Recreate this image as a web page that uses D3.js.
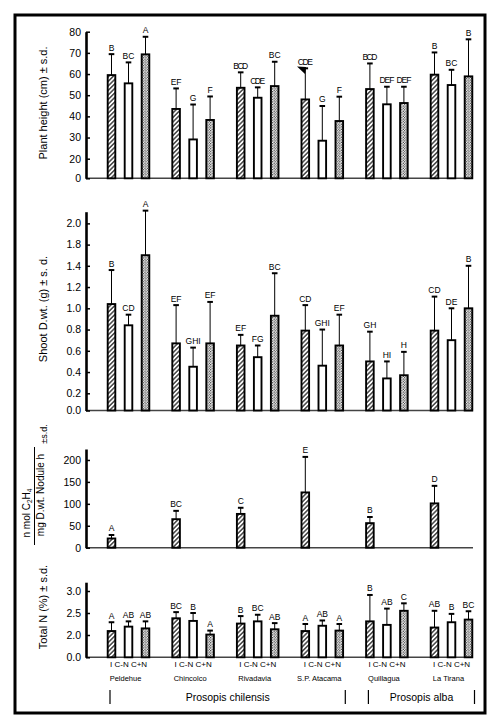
<!DOCTYPE html>
<html>
<head>
<meta charset="utf-8">
<script src="https://cdn.jsdelivr.net/npm/d3@7"></script>
<style>
  body { margin: 0; background: #fff; }
  svg { font-family: "Liberation Sans", Arial, sans-serif; }
  svg text { fill: #000; }
</style>
</head>
<body>
<div id="chart"></div>
<script>
// groups / treatments
const groups = ['Peldehue', 'Chincolco', 'Rivadavia', 'S.P. Atacama', 'Quillagua', 'La Tirana'];
const treatments = ['I', 'C-N', 'C+N'];
const treatLabel = 'I C-N C+N';

// plant height (cm), order: group by group, I / C-N / C+N
const heightMean = [59.5, 55.6, 69.3, 43.5, 29.1, 38.3, 53.5, 48.8, 54.3, 48.0, 28.5, 37.8, 52.9, 45.7, 46.3, 59.7, 54.8, 58.9];
const heightSd = [9.9, 9.9, 8.3, 9.7, 16.5, 11.1, 7.3, 4.9, 11.5, 14.7, 16.4, 11.5, 12.1, 8.3, 7.7, 10.5, 7.2, 17.5];
const heightLetters = ['B', 'BC', 'A', 'EF', 'G', 'F', 'BCD', 'CDE', 'BC', 'CDE', 'G', 'F', 'BCD', 'DEF', 'DEF', 'B', 'BC', 'B'];
const heightTicks = [0, 20, 30, 40, 50, 60, 70, 80];

// shoot dry weight (g)
const shootMean = [1.04, 0.84, 1.60, 0.67, 0.45, 0.67, 0.65, 0.54, 0.93, 0.79, 0.46, 0.65, 0.50, 0.34, 0.37, 0.79, 0.70, 1.00];
const shootSd = [0.32, 0.10, 0.52, 0.36, 0.18, 0.39, 0.10, 0.11, 0.40, 0.24, 0.34, 0.29, 0.28, 0.16, 0.22, 0.32, 0.30, 0.40];
const shootLetters = ['B', 'CD', 'A', 'EF', 'GHI', 'EF', 'EF', 'FG', 'BC', 'CD', 'GHI', 'EF', 'GH', 'HI', 'H', 'CD', 'DE', 'B'];
const shootTicks = [0, 0.2, 0.4, 0.6, 0.8, 1.0, 1.2, 1.4, 1.8, 2.0];

// nitrogenase activity (inoculated only)
const araMean = [21, 65, 77, 126, 56, 101];
const araSd = [8, 19, 14, 81, 14, 40];
const araLetters = ['A', 'BC', 'C', 'E', 'B', 'D'];
const araTicks = [0, 50, 100, 150, 200];

// total N (%)
const nMean = [2.09, 2.19, 2.15, 2.38, 2.32, 2.01, 2.26, 2.31, 2.13, 2.09, 2.21, 2.10, 2.31, 2.23, 2.55, 2.17, 2.29, 2.35];
const nSd = [0.20, 0.12, 0.16, 0.14, 0.18, 0.09, 0.17, 0.15, 0.14, 0.16, 0.12, 0.15, 0.60, 0.37, 0.17, 0.38, 0.19, 0.19];
const nLetters = ['A', 'AB', 'AB', 'BC', 'B', 'A', 'B', 'BC', 'AB', 'A', 'AB', 'A', 'B', 'AB', 'C', 'AB', 'B', 'BC'];
const nTicks = [0, 2.0, 2.5, 3.0];

const species = [
  { name: 'Prosopis chilensis', from: 'Peldehue', to: 'S.P. Atacama' },
  { name: 'Prosopis alba', from: 'Quillagua', to: 'La Tirana' }
];

document.addEventListener('DOMContentLoaded', () => {
  const width = 500;
  const height = 725;
  const axisX = 86;
  const axisEnd = 473;
  const barW = 7.6;

  const svg = d3.select('#chart')
    .append('svg')
    .attr('width', width)
    .attr('height', height);

  const defs = svg.append('defs');
  const hatch = defs.append('pattern')
    .attr('id', 'hatch')
    .attr('patternUnits', 'userSpaceOnUse')
    .attr('width', 3.2)
    .attr('height', 3.2)
    .attr('patternTransform', 'rotate(45)');
  hatch.append('rect').attr('width', 3.2).attr('height', 3.2).attr('fill', '#fff');
  hatch.append('line')
    .attr('x1', 0.8).attr('y1', 0).attr('x2', 0.8).attr('y2', 3.2)
    .attr('stroke', '#000').attr('stroke-width', 1.1);

  const dots = defs.append('pattern')
    .attr('id', 'dots')
    .attr('patternUnits', 'userSpaceOnUse')
    .attr('width', 2.6)
    .attr('height', 2.6);
  dots.append('rect').attr('width', 2.6).attr('height', 2.6).attr('fill', '#fff');
  dots.append('circle').attr('cx', 0.65).attr('cy', 0.65).attr('r', 0.6).attr('fill', '#000');
  dots.append('circle').attr('cx', 1.95).attr('cy', 1.95).attr('r', 0.6).attr('fill', '#000');

  const fills = { 'I': 'url(#hatch)', 'C-N': '#fff', 'C+N': 'url(#dots)' };

  // frame
  svg.append('rect')
    .attr('x', 15).attr('y', 15)
    .attr('width', 470).attr('height', 698)
    .attr('fill', 'none')
    .attr('stroke', '#000')
    .attr('stroke-width', 3);

  const xGroup = d3.scalePoint()
    .domain(groups)
    .range([128.5, 451.5]);

  const xTreat = d3.scalePoint()
    .domain(treatments)
    .range([-17, 17]);

  // y scales (the original axes skip the lowest step, so they are piecewise)
  const y1 = d3.scaleLinear().domain([0, 20, 80]).range([178.3, 158.7, 31.7]);
  const y2 = d3.scaleLinear().domain([0, 0.2, 1.4, 1.8, 2.11]).range([410.5, 393.3, 265.8, 244.6, 211.7]);
  const y3 = d3.scaleLinear().domain([0, 225]).range([547.7, 449]);
  const y4 = d3.scaleLinear().domain([0, 2, 3, 3.2]).range([657.3, 635, 591, 582.2]);

  const panels = [
    { y: y1, mean: heightMean, sd: heightSd, letters: heightLetters, ticks: heightTicks, fmt: d3.format('d'), treats: treatments },
    { y: y2, mean: shootMean, sd: shootSd, letters: shootLetters, ticks: shootTicks, fmt: d3.format('.1f'), treats: treatments },
    { y: y3, mean: araMean, sd: araSd, letters: araLetters, ticks: araTicks, fmt: d3.format('d'), treats: ['I'] },
    { y: y4, mean: nMean, sd: nSd, letters: nLetters, ticks: nTicks, fmt: d3.format('.1f'), treats: treatments }
  ];

  panels.forEach(p => {
    const g = svg.append('g');
    const base = p.y(0);

    const rows = [];
    groups.forEach((grp, gi) => {
      p.treats.forEach((t, ti) => {
        const i = gi * p.treats.length + ti;
        rows.push({ grp, t, mean: p.mean[i], sd: p.sd[i], letter: p.letters[i] });
      });
    });

    // baseline
    g.append('line')
      .attr('x1', axisX).attr('x2', axisEnd)
      .attr('y1', base).attr('y2', base)
      .attr('stroke', '#444')
      .attr('stroke-width', 1.4);

    const bar = g.selectAll('g.bar')
      .data(rows)
      .enter()
      .append('g')
      .attr('class', 'bar')
      .attr('transform', d => `translate(${xGroup(d.grp) + xTreat(d.t)}, 0)`);

    // error bars (upper only)
    bar.append('line')
      .attr('x1', 0).attr('x2', 0)
      .attr('y1', d => p.y(d.mean))
      .attr('y2', d => p.y(d.mean + d.sd))
      .attr('stroke', '#000')
      .attr('stroke-width', 1);

    bar.append('line')
      .attr('x1', -2.8).attr('x2', 2.8)
      .attr('y1', d => p.y(d.mean + d.sd))
      .attr('y2', d => p.y(d.mean + d.sd))
      .attr('stroke', '#000')
      .attr('stroke-width', 2);

    bar.append('rect')
      .attr('x', -barW / 2)
      .attr('y', d => p.y(d.mean))
      .attr('width', barW)
      .attr('height', d => base - p.y(d.mean))
      .attr('fill', d => fills[d.t])
      .attr('stroke', '#000')
      .attr('stroke-width', 1.9);

    bar.append('text')
      .attr('x', 0)
      .attr('y', d => p.y(d.mean + d.sd) - 3.5)
      .attr('text-anchor', 'middle')
      .attr('font-size', 8.5)
      .attr('textLength', d => d.letter.length > 2 ? 15 : null)
      .text(d => d.letter);

    // y axis, ticks pointing into the plot
    const axis = g.append('g')
      .attr('transform', `translate(${axisX}, 0)`)
      .call(d3.axisLeft(p.y)
        .tickValues(p.ticks)
        .tickFormat(p.fmt)
        .tickSizeInner(-4)
        .tickSizeOuter(0)
        .tickPadding(5));
    axis.select('.domain').attr('stroke-width', 2.6);
    axis.selectAll('.tick line').attr('stroke-width', 1.5);
    axis.selectAll('.tick text')
      .attr('font-size', 10.5)
      .attr('fill', '#000')
      .attr('font-family', '"Liberation Sans", Arial, sans-serif');
  });

  // stray mark on the original, by the S.P. Atacama label
  svg.append('path')
    .attr('d', 'M297,66.5 L306,67 L305,74 Z')
    .attr('fill', '#000');

  // y titles
  const title = (x, y, txt, size) => svg.append('text')
    .attr('transform', `translate(${x}, ${y}) rotate(-90)`)
    .attr('text-anchor', 'middle')
    .attr('font-size', size)
    .text(txt);

  title(47, 103, 'Plant height (cm) \u00b1 s.d.', 11);
  title(47, 309, 'Shoot D.wt. (g) \u00b1 s. d.', 11);
  title(47, 607, 'Total N (%) \u00b1 s.d.', 11);

  // fraction label of panel 3
  const frac = svg.append('g');
  const num = frac.append('text')
    .attr('transform', 'translate(30, 513) rotate(-90)')
    .attr('text-anchor', 'middle')
    .attr('font-size', 10);
  num.append('tspan').text('n mol C');
  num.append('tspan').attr('font-size', 6.5).attr('dy', 1.5).text('2');
  num.append('tspan').attr('dy', -1.5).text('H');
  num.append('tspan').attr('font-size', 6.5).attr('dy', 1.5).text('4');
  frac.append('line')
    .attr('x1', 34.5).attr('x2', 34.5)
    .attr('y1', 447).attr('y2', 545)
    .attr('stroke', '#000').attr('stroke-width', 1);
  frac.append('text')
    .attr('transform', 'translate(44, 495) rotate(-90)')
    .attr('text-anchor', 'middle')
    .attr('font-size', 10)
    .text('mg D.wt. Nodule h');
  frac.append('text')
    .attr('transform', 'translate(47, 434) rotate(-90)')
    .attr('text-anchor', 'middle')
    .attr('font-size', 9)
    .text('\u00b1s.d.');

  // x labels: treatments, sites, species
  const xl = svg.append('g');
  groups.forEach(grp => {
    xl.append('text')
      .attr('x', xGroup(grp) + xTreat('I') - 1.5)
      .attr('y', 667)
      .attr('font-size', 8)
      .text(treatLabel);
    xl.append('text')
      .attr('x', xGroup(grp) - 3)
      .attr('y', 681)
      .attr('text-anchor', 'middle')
      .attr('font-size', 7.5)
      .text(grp);
  });

  species.forEach(s => {
    const x0 = xGroup(s.from) - 18.5;
    const x1 = xGroup(s.to) + 23;
    [x0, x1].forEach(x => {
      xl.append('line')
        .attr('x1', x).attr('x2', x)
        .attr('y1', 690).attr('y2', 704)
        .attr('stroke', '#000').attr('stroke-width', 1.2);
    });
    xl.append('text')
      .attr('x', (x0 + x1) / 2)
      .attr('y', 701)
      .attr('text-anchor', 'middle')
      .attr('font-size', 10.5)
      .text(s.name);
  });
});
</script>
</body>
</html>
